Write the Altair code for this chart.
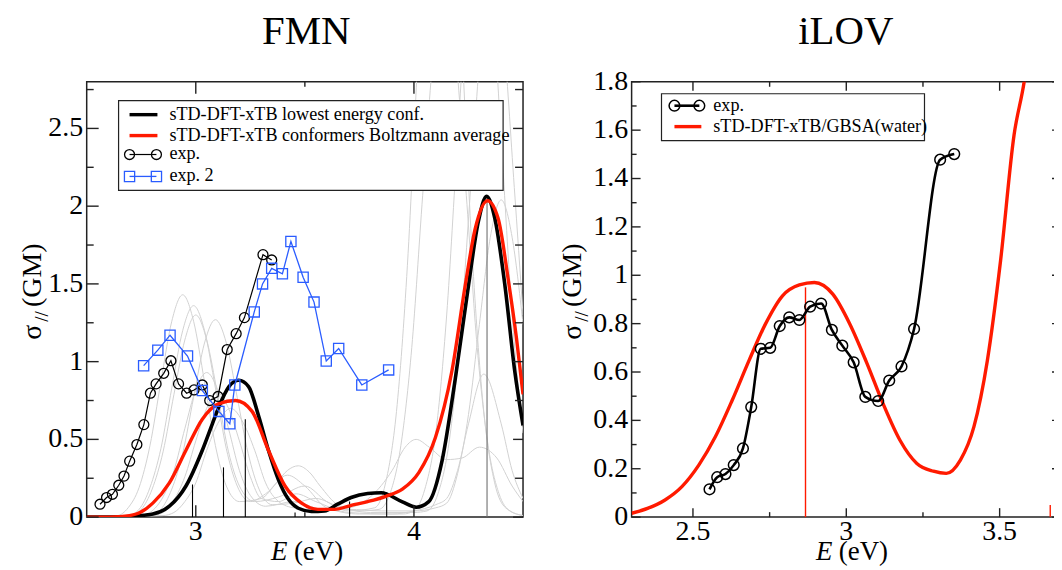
import altair as alt
import pandas as pd

FONT = "Liberation Serif"
INK = "#222222"
RED = "#ff1a00"
BLUE = "#2a5cff"
GRAY = "#d2d2d2"

# ---------------- FMN panel data ----------------
fmn_low_E = [2.5, 2.65, 2.727, 2.803, 2.879, 2.955, 3.03, 3.076, 3.106, 3.152, 3.197, 3.242, 3.288,
             3.333, 3.379, 3.424, 3.47, 3.53, 3.59, 3.65, 3.712, 3.788, 3.85, 3.947, 4.01, 4.068,
             4.129, 4.19, 4.25, 4.295, 4.333, 4.371, 4.417, 4.462, 4.5]
fmn_low_s = [0.0, 0.0, 0.008, 0.02, 0.07, 0.2, 0.43, 0.6, 0.71, 0.84, 0.88, 0.84, 0.65,
             0.43, 0.24, 0.116, 0.057, 0.036, 0.04, 0.083, 0.126, 0.152, 0.157, 0.098, 0.064, 0.1,
             0.364, 0.895, 1.49, 1.9, 2.063, 1.92, 1.49, 0.94, 0.59]

fmn_avg_E = [2.5, 2.6, 2.652, 2.727, 2.803, 2.879, 2.955, 3.03, 3.106, 3.182, 3.258, 3.333, 3.409,
             3.485, 3.56, 3.636, 3.712, 3.788, 3.871, 3.947, 4.023, 4.098, 4.174, 4.235, 4.28,
             4.337, 4.386, 4.432, 4.47, 4.5]
fmn_avg_s = [0.0, 0.0, 0.003, 0.02, 0.09, 0.22, 0.43, 0.63, 0.73, 0.75, 0.68, 0.43, 0.2,
             0.09, 0.05, 0.05, 0.076, 0.1, 0.134, 0.18, 0.288, 0.51, 0.94, 1.49, 1.85,
             2.035, 1.92, 1.53, 1.15, 0.79]

fmn_exp_E = [2.561, 2.591, 2.618, 2.647, 2.671, 2.697, 2.730, 2.762, 2.792, 2.818, 2.853, 2.886,
             2.921, 2.958, 2.992, 3.030, 3.064, 3.102, 3.144, 3.185, 3.223, 3.308, 3.348]
fmn_exp_s = [0.083, 0.126, 0.147, 0.205, 0.264, 0.36, 0.467, 0.595, 0.797, 0.857, 0.925, 1.006,
             0.857, 0.797, 0.818, 0.85, 0.75, 0.776, 1.078, 1.18, 1.283, 1.688, 1.654]

fmn_exp2_E = [2.761, 2.826, 2.882, 2.962, 3.030, 3.106, 3.156, 3.179, 3.268, 3.306, 3.348, 3.397,
              3.436, 3.492, 3.542, 3.598, 3.655, 3.761, 3.884]
fmn_exp2_s = [0.974, 1.074, 1.17, 1.036, 0.814, 0.68, 0.60, 0.85, 1.32, 1.50, 1.60, 1.565,
              1.773, 1.543, 1.383, 1.004, 1.085, 0.85, 0.947]

fmn_stick_E = [2.985, 3.127, 3.227, 3.455, 3.705, 3.875, 4.335]
fmn_stick_s = [0.21, 0.32, 0.63, 0.03, 0.10, 0.16, 2.07]

# individual conformer spectra (light gray), (E, sigma) pairs
conf1 = [(2.5, 0), (2.64, 0.01), (2.69, 0.06), (2.74, 0.19), (2.79, 0.46), (2.84, 0.87), (2.89, 1.26),
         (2.94, 1.43), (2.99, 1.26), (3.04, 0.87), (3.09, 0.46), (3.14, 0.2), (3.2, 0.1), (3.3, 0.12),
         (3.37, 0.22), (3.42, 0.3), (3.47, 0.33), (3.52, 0.29), (3.57, 0.2), (3.65, 0.08), (3.75, 0.04),
         (3.84, 0.05), (3.89, 0.15), (3.94, 0.46), (3.99, 1.09), (4.04, 2.07), (4.09, 2.99), (4.14, 3.4),
         (4.19, 2.99), (4.24, 2.07), (4.29, 1.09), (4.34, 0.46), (4.39, 0.15), (4.44, 0.04), (4.5, 0.01)]
conf2 = [(2.5, 0), (2.69, 0.01), (2.74, 0.05), (2.79, 0.19), (2.84, 0.44), (2.89, 0.83), (2.94, 1.2),
         (2.99, 1.36), (3.04, 1.2), (3.09, 0.83), (3.14, 0.44), (3.19, 0.2), (3.25, 0.1), (3.32, 0.15),
         (3.42, 0.27), (3.5, 0.2), (3.6, 0.06), (3.75, 0.02), (3.95, 0.02), (4.0, 0.04), (4.05, 0.18),
         (4.1, 0.54), (4.15, 1.3), (4.2, 2.43), (4.25, 3.53), (4.3, 4.0), (4.35, 3.53), (4.4, 2.43),
         (4.45, 1.3), (4.5, 0.54)]
conf3 = [(2.5, 0), (2.7, 0.01), (2.75, 0.05), (2.8, 0.18), (2.85, 0.42), (2.9, 0.79), (2.95, 1.14),
         (3.0, 1.3), (3.05, 1.14), (3.1, 0.79), (3.15, 0.42), (3.2, 0.2), (3.27, 0.1), (3.38, 0.13),
         (3.5, 0.2), (3.6, 0.1), (3.7, 0.04), (3.82, 0.06), (3.87, 0.22), (3.92, 0.68), (3.97, 1.62),
         (4.02, 3.03), (4.07, 4.41), (4.12, 5.0), (4.17, 4.41), (4.22, 3.03), (4.27, 1.62), (4.32, 0.68),
         (4.37, 0.22), (4.42, 0.06), (4.5, 0.01)]
conf4 = [(2.5, 0), (2.79, 0.01), (2.84, 0.05), (2.89, 0.18), (2.94, 0.41), (2.99, 0.77), (3.04, 1.12),
         (3.09, 1.27), (3.14, 1.12), (3.19, 0.77), (3.24, 0.41), (3.29, 0.18), (3.35, 0.08), (3.45, 0.09),
         (3.55, 0.12), (3.65, 0.07), (3.8, 0.03), (4.0, 0.03), (4.06, 0.04), (4.11, 0.15), (4.16, 0.47),
         (4.21, 1.13), (4.26, 2.12), (4.31, 3.09), (4.36, 3.5), (4.41, 3.09), (4.46, 2.12), (4.5, 1.3)]
conf5 = [(2.5, 0), (2.75, 0.01), (2.8, 0.04), (2.85, 0.13), (2.9, 0.3), (2.95, 0.57), (3.0, 0.82),
         (3.05, 0.93), (3.1, 0.82), (3.15, 0.57), (3.2, 0.3), (3.25, 0.14), (3.32, 0.07), (3.45, 0.1),
         (3.58, 0.05), (3.7, 0.06), (3.8, 0.13), (3.9, 0.3), (3.96, 0.45), (4.01, 0.5), (4.07, 0.45),
         (4.15, 0.37), (4.22, 0.38), (4.3, 0.45), (4.38, 0.38), (4.45, 0.2), (4.5, 0.1)]
conf6 = [(2.5, 0), (2.8, 0.01), (2.85, 0.03), (2.9, 0.11), (2.95, 0.26), (3.0, 0.49), (3.05, 0.7),
         (3.1, 0.8), (3.15, 0.7), (3.2, 0.49), (3.25, 0.26), (3.3, 0.12), (3.38, 0.1), (3.46, 0.15),
         (3.55, 0.1), (3.7, 0.03), (3.9, 0.02), (4.0, 0.04), (4.1, 0.08), (4.15, 0.12), (4.2, 0.3),
         (4.25, 0.6), (4.32, 0.92), (4.4, 0.6), (4.45, 0.3), (4.5, 0.12)]
conf7 = [(2.5, 0), (2.85, 0.01), (2.9, 0.03), (2.95, 0.1), (3.0, 0.22), (3.05, 0.43), (3.1, 0.6),
         (3.16, 0.7), (3.22, 0.6), (3.27, 0.43), (3.32, 0.22), (3.38, 0.1), (3.45, 0.06), (3.55, 0.05),
         (3.7, 0.05), (3.85, 0.04), (4.0, 0.04), (4.1, 0.06), (4.15, 0.09), (4.2, 0.28), (4.25, 0.66),
         (4.3, 1.24), (4.35, 1.8), (4.4, 2.04), (4.45, 1.8), (4.5, 1.24)]
fmn_confs = [conf1, conf2, conf3, conf4, conf5, conf6, conf7]

fmn_x_major = [3, 4]
fmn_x_labels = ["3", "4"]
fmn_x_minor = [3.5]
fmn_y_major = [0, 0.5, 1, 1.5, 2, 2.5]
fmn_y_labels = ["0", "0.5", "1", "1.5", "2", "2.5"]
fmn_y_minor = [0.25, 0.75, 1.25, 1.75, 2.25, 2.75]

# ---------------- iLOV panel data ----------------
ilov_exp_E = [2.554, 2.579, 2.606, 2.633, 2.663, 2.690, 2.721, 2.752, 2.783, 2.814, 2.847, 2.882,
              2.918, 2.953, 2.987, 3.024, 3.062, 3.104, 3.140, 3.180, 3.221, 3.306, 3.352]
ilov_exp_s = [0.115, 0.165, 0.178, 0.215, 0.284, 0.455, 0.696, 0.70, 0.79, 0.826, 0.815, 0.87,
              0.883, 0.774, 0.709, 0.64, 0.497, 0.48, 0.565, 0.623, 0.778, 1.478, 1.501]

ilov_calc_E = [2.3, 2.354, 2.409, 2.464, 2.519, 2.573, 2.628, 2.683, 2.737, 2.792, 2.847, 2.896,
               2.956, 3.011, 3.066, 3.12, 3.175, 3.23, 3.284, 3.326, 3.372, 3.416, 3.46, 3.503,
               3.547, 3.58, 3.62]
ilov_calc_s = [0.016, 0.037, 0.071, 0.126, 0.215, 0.332, 0.483, 0.648, 0.80, 0.915, 0.96, 0.97,
               0.922, 0.80, 0.64, 0.469, 0.318, 0.222, 0.19, 0.181, 0.236, 0.373, 0.648, 1.06,
               1.58, 1.80, 2.2]

ilov_stick_E = [2.867, 3.665]
ilov_stick_s = [0.95, 0.05]

ilov_x_major = [2.5, 3, 3.5]
ilov_x_labels = ["2.5", "3", "3.5"]
ilov_x_minor = [2.75, 3.25]
ilov_y_major = [0, 0.2, 0.4, 0.6, 0.8, 1.0, 1.2, 1.4, 1.6, 1.8]
ilov_y_labels = ["0", "0.2", "0.4", "0.6", "0.8", "1", "1.2", "1.4", "1.6", "1.8"]
ilov_y_minor = [0.1, 0.3, 0.5, 0.7, 0.9, 1.1, 1.3, 1.5, 1.7]

# ---------------- layout ----------------
WL, WR, H = 438, 431, 437
ONE = alt.Data(values=[{"k": 1}])
LAB = 28
LEG = 18.2


def txt(s, x, y, size, align="left", angle=0, style="normal"):
    return alt.Chart(ONE).mark_text(
        text=s, font=FONT, fontSize=size, align=align, baseline="alphabetic",
        angle=angle, fontStyle=style, color="black"
    ).encode(x=alt.value(x), y=alt.value(y))


def seg(x1, x2, y, color, width):
    return alt.Chart(ONE).mark_rule(color=color, strokeWidth=width).encode(
        x=alt.value(x1), x2=alt.value(x2), y=alt.value(y))


def dot(x, y, shape, color, size, width):
    return alt.Chart(ONE).mark_point(shape=shape, filled=False, color=color, size=size,
                                     strokeWidth=width, opacity=1).encode(
        x=alt.value(x), y=alt.value(y))


def box(x1, x2, y1, y2):
    return alt.Chart(ONE).mark_rect(fill="white", stroke=INK, strokeWidth=1.2).encode(
        x=alt.value(x1), x2=alt.value(x2), y=alt.value(y1), y2=alt.value(y2))


def frame(x1, x2):
    # invisible extent that fixes each panel's outer size
    return alt.Chart(ONE).mark_rect(opacity=0).encode(
        x=alt.value(x1), x2=alt.value(x2), y=alt.value(-80), y2=alt.value(492))


def yticks(vals, ys, W, side, length):
    x0 = 0 if side == "left" else W
    x1 = length if side == "left" else W - length
    return alt.Chart(pd.DataFrame({"v": vals})).mark_rule(color=INK, strokeWidth=1.4).encode(
        y=alt.Y("v:Q", scale=ys, axis=None), x=alt.value(x0), x2=alt.value(x1))


def xticks(vals, xs, side, length):
    y0 = H if side == "bottom" else 0
    y1 = H - length if side == "bottom" else length
    return alt.Chart(pd.DataFrame({"v": vals})).mark_rule(color=INK, strokeWidth=1.4).encode(
        x=alt.X("v:Q", scale=xs, axis=None), y=alt.value(y0), y2=alt.value(y1))


def xlabels(vals, labs, xs):
    return alt.Chart(pd.DataFrame({"v": vals, "t": labs})).mark_text(
        font=FONT, fontSize=LAB, align="center", baseline="top", color="black").encode(
        x=alt.X("v:Q", scale=xs, axis=None), y=alt.value(H + 1), text="t:N")


def ylabels(vals, labs, ys):
    return alt.Chart(pd.DataFrame({"v": vals, "t": labs})).mark_text(
        font=FONT, fontSize=LAB, align="right", baseline="middle", color="black").encode(
        y=alt.Y("v:Q", scale=ys, axis=None), x=alt.value(-3.5), text="t:N")


def ytitle(xb):
    return [
        txt("σ", xb, 259, 28, angle=270),
        txt("//", xb + 7, 241, 19, angle=270),
        txt("(GM)", xb, 226, 28, angle=270),
    ]


def xtitle():
    return [
        txt("E", 185, 480, 27, style="italic"),
        txt("(eV)", 208, 480, 27),
    ]


# ---------------- FMN chart ----------------
xs_f = alt.Scale(domain=[2.5, 4.5], nice=False, zero=False)
ys_f = alt.Scale(domain=[0, 2.8], nice=False)

conf_rows = []
for i, c in enumerate(fmn_confs):
    for e, s in c:
        conf_rows.append({"E": e, "s": s, "conf": i})
df_conf = pd.DataFrame(conf_rows)

gray = alt.Chart(df_conf).mark_line(color=GRAY, strokeWidth=1, clip=True, interpolate="monotone").encode(
    x=alt.X("E:Q", scale=xs_f, axis=None),
    y=alt.Y("s:Q", scale=ys_f, axis=None),
    detail="conf:N")

sticks_f = alt.Chart(pd.DataFrame({"E": fmn_stick_E, "s": fmn_stick_s})).mark_rule(strokeWidth=1.1).encode(
    x=alt.X("E:Q", scale=xs_f, axis=None),
    y=alt.Y("s:Q", scale=ys_f, axis=None),
    y2=alt.datum(0),
    color=alt.condition("datum.s > 1", alt.value("#707070"), alt.value("black")))

low = alt.Chart(pd.DataFrame({"E": fmn_low_E, "s": fmn_low_s})).mark_line(
    color="black", strokeWidth=3.6, clip=True, interpolate="monotone").encode(
    x=alt.X("E:Q", scale=xs_f, axis=None), y=alt.Y("s:Q", scale=ys_f, axis=None))

avg = alt.Chart(pd.DataFrame({"E": fmn_avg_E, "s": fmn_avg_s})).mark_line(
    color=RED, strokeWidth=3.4, clip=True, interpolate="monotone").encode(
    x=alt.X("E:Q", scale=xs_f, axis=None), y=alt.Y("s:Q", scale=ys_f, axis=None))

df_exp = pd.DataFrame({"E": fmn_exp_E, "s": fmn_exp_s})
exp_line = alt.Chart(df_exp).mark_line(color="black", strokeWidth=1.2).encode(
    x=alt.X("E:Q", scale=xs_f, axis=None), y=alt.Y("s:Q", scale=ys_f, axis=None))
exp_pts = alt.Chart(df_exp).mark_point(shape="circle", filled=False, color="black", size=100,
                                       strokeWidth=1.3, opacity=1).encode(
    x=alt.X("E:Q", scale=xs_f, axis=None), y=alt.Y("s:Q", scale=ys_f, axis=None))

df_exp2 = pd.DataFrame({"E": fmn_exp2_E, "s": fmn_exp2_s})
exp2_line = alt.Chart(df_exp2).mark_line(color=BLUE, strokeWidth=1.3).encode(
    x=alt.X("E:Q", scale=xs_f, axis=None), y=alt.Y("s:Q", scale=ys_f, axis=None))
exp2_pts = alt.Chart(df_exp2).mark_point(shape="square", filled=False, color=BLUE, size=105,
                                         strokeWidth=1.3, opacity=1).encode(
    x=alt.X("E:Q", scale=xs_f, axis=None), y=alt.Y("s:Q", scale=ys_f, axis=None))

fmn_ticks = [
    yticks(fmn_y_major, ys_f, WL, "left", 12), yticks(fmn_y_minor, ys_f, WL, "left", 7),
    yticks(fmn_y_major, ys_f, WL, "right", 10), yticks(fmn_y_minor, ys_f, WL, "right", 8),
    xticks(fmn_x_major, xs_f, "bottom", 12), xticks(fmn_x_minor, xs_f, "bottom", 5),
    xticks(fmn_x_major, xs_f, "top", 12), xticks(fmn_x_minor, xs_f, "top", 5),
    xlabels(fmn_x_major, fmn_x_labels, xs_f), ylabels(fmn_y_major, fmn_y_labels, ys_f),
]

fmn_legend = [
    box(32, 418, 19, 109),
    seg(43, 71, 33, "black", 3.4), txt("sTD-DFT-xTB lowest energy conf.", 83, 38, LEG),
    seg(43, 71, 54, RED, 3.4), txt("sTD-DFT-xTB conformers Boltzmann average", 83, 59, LEG),
    seg(43, 70, 73, "black", 1.2), dot(43, 73, "circle", "black", 100, 1.3), dot(70, 73, "circle", "black", 100, 1.3),
    txt("exp.", 83, 78, LEG),
    seg(43, 70, 95, BLUE, 1.3), dot(43, 95, "square", BLUE, 105, 1.3), dot(70, 95, "square", BLUE, 105, 1.3),
    txt("exp. 2", 83, 100, LEG),
]

fmn = alt.layer(
    frame(-86, WL + 2),
    gray, sticks_f, low, avg, exp_line, exp_pts, exp2_line, exp2_pts,
    *fmn_ticks, *fmn_legend,
    txt("FMN", 220.5, -38, 41, align="center"),
    *ytitle(-46), *xtitle(),
).properties(width=WL, height=H)

# ---------------- iLOV chart ----------------
xs_i = alt.Scale(domain=[2.3, 3.7], nice=False, zero=False)
ys_i = alt.Scale(domain=[0, 1.8], nice=False)

calc = alt.Chart(pd.DataFrame({"E": ilov_calc_E, "s": ilov_calc_s})).mark_line(
    color=RED, strokeWidth=3.4, clip=True, interpolate="monotone").encode(
    x=alt.X("E:Q", scale=xs_i, axis=None),
    y=alt.Y("s:Q", scale=ys_i, axis=None))

sticks_i = alt.Chart(pd.DataFrame({"E": ilov_stick_E, "s": ilov_stick_s})).mark_rule(
    color=RED, strokeWidth=1.4).encode(
    x=alt.X("E:Q", scale=xs_i, axis=None), y=alt.Y("s:Q", scale=ys_i, axis=None), y2=alt.datum(0))

df_iexp = pd.DataFrame({"E": ilov_exp_E, "s": ilov_exp_s})
iexp_line = alt.Chart(df_iexp).mark_line(color="black", strokeWidth=2.6, interpolate="monotone").encode(
    x=alt.X("E:Q", scale=xs_i, axis=None), y=alt.Y("s:Q", scale=ys_i, axis=None))
iexp_pts = alt.Chart(df_iexp).mark_point(shape="circle", filled=False, color="black", size=115,
                                         strokeWidth=1.5, opacity=1).encode(
    x=alt.X("E:Q", scale=xs_i, axis=None), y=alt.Y("s:Q", scale=ys_i, axis=None))

ilov_ticks = [
    yticks(ilov_y_major, ys_i, WR, "left", 9), yticks(ilov_y_minor, ys_i, WR, "left", 5),
    yticks(ilov_y_major, ys_i, WR, "right", 9), yticks(ilov_y_minor, ys_i, WR, "right", 4),
    xticks(ilov_x_major, xs_i, "bottom", 9), xticks(ilov_x_minor, xs_i, "bottom", 5),
    xticks(ilov_x_major, xs_i, "top", 9), xticks(ilov_x_minor, xs_i, "top", 5),
    xlabels(ilov_x_major, ilov_x_labels, xs_i), ylabels(ilov_y_major, ilov_y_labels, ys_i),
]

ilov_legend = [
    box(30, 294, 12, 59),
    seg(43, 68, 24, "black", 2.6), dot(43, 24, "circle", "black", 115, 1.5), dot(68, 24, "circle", "black", 115, 1.5),
    txt("exp.", 82, 29, LEG),
    seg(43, 70, 45, RED, 3.4), txt("sTD-DFT-xTB/GBSA(water)", 82, 50, LEG),
]

ilov = alt.layer(
    frame(-105, WR + 2),
    sticks_i, calc, iexp_line, iexp_pts,
    *ilov_ticks, *ilov_legend,
    txt("iLOV", 215, -38, 41, align="center"),
    *ytitle(-51), *xtitle(),
).properties(width=WR, height=H)

chart = alt.hconcat(fmn, ilov, spacing=0).properties(
    padding={"left": -8, "top": -8, "right": -10, "bottom": -8},
    background="white",
).configure_view(stroke=INK, strokeWidth=1.5)

chart.save("out.html", embed_options={"renderer": "svg", "actions": False})
